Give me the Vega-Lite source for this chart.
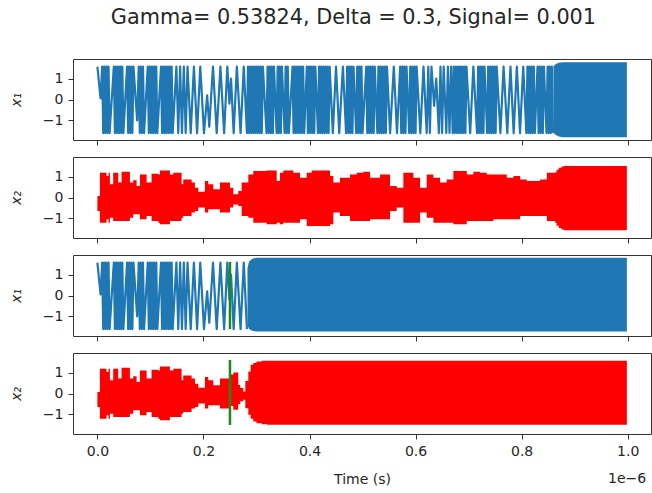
{
"$schema": "https://vega.github.io/schema/vega-lite/v6.json",
"background": "white",
"padding": {"left": 9, "top": 6, "right": 0, "bottom": 0},
"title": {"text": "Gamma= 0.53824, Delta = 0.3, Signal= 0.001", "fontSize": 20.8, "font": "DejaVu Sans", "fontWeight": "normal", "color": "#262626", "anchor": "middle", "offset": 30, "dx": 23},
"config": {
 "view": {"stroke": "#333333", "strokeWidth": 1},
 "font": "DejaVu Sans",
 "axis": {"labelFont": "DejaVu Sans", "labelFontSize": 14, "labelColor": "#262626", "tickColor": "#333333", "tickSize": 5, "tickWidth": 1, "grid": false, "domain": false, "labelPadding": 5, "titleFont": "DejaVu Sans", "titleFontSize": 14, "titleFontWeight": "normal", "titleColor": "#262626"},
 "axisY": {"titleFontStyle": "italic", "titlePadding": 18.5},
 "concat": {"spacing": 10}
},
"datasets": {
 "x1": [
{"t":0,"v":1.57},{"t":0.006,"v":0.05},{"t":0.009,"v":1.57},{"t":0.011,"v":-1.6},{"t":0.013,"v":1.57},{"t":0.015,"v":-1.6},{"t":0.017,"v":1.57},{"t":0.019,"v":-1.6},{"t":0.021,"v":1.57},{"t":0.023,"v":-1.6},{"t":0.031,"v":1.57},
{"t":0.033,"v":-1.6},{"t":0.035,"v":1.57},{"t":0.037,"v":-1.6},{"t":0.039,"v":1.57},{"t":0.041,"v":-1.6},{"t":0.043,"v":1.57},{"t":0.045,"v":-1.6},{"t":0.047,"v":1.57},{"t":0.049,"v":-1.6},{"t":0.056,"v":1.57},
{"t":0.058,"v":-1.6},{"t":0.060,"v":1.57},{"t":0.062,"v":-1.6},{"t":0.064,"v":1.57},{"t":0.066,"v":-1.6},{"t":0.068,"v":1.57},{"t":0.075,"v":-1.0},{"t":0.078,"v":1.57},
{"t":0.080,"v":-1.6},{"t":0.082,"v":1.57},{"t":0.084,"v":-1.6},{"t":0.086,"v":1.57},{"t":0.088,"v":-1.6},{"t":0.095,"v":1.57},
{"t":0.097,"v":-1.6},{"t":0.099,"v":1.57},{"t":0.101,"v":-1.6},{"t":0.103,"v":1.57},{"t":0.105,"v":-1.6},{"t":0.107,"v":1.57},{"t":0.109,"v":-1.6},{"t":0.111,"v":1.57},{"t":0.113,"v":-1.6},{"t":0.120,"v":1.57},
{"t":0.122,"v":-1.6},{"t":0.124,"v":1.57},{"t":0.126,"v":-1.6},{"t":0.128,"v":1.57},{"t":0.130,"v":-1.6},{"t":0.132,"v":1.57},{"t":0.134,"v":-1.6},{"t":0.136,"v":1.57},{"t":0.138,"v":-1.6},{"t":0.140,"v":1.57},{"t":0.142,"v":-1.6},{"t":0.149,"v":1.57},
{"t":0.1525,"v":-1.6},{"t":0.156,"v":1.57},{"t":0.1595,"v":-1.6},{"t":0.163,"v":1.57},{"t":0.1665,"v":-1.6},{"t":0.170,"v":1.57},
{"t":0.176,"v":-1.6},{"t":0.182,"v":1.57},{"t":0.188,"v":-1.6},{"t":0.194,"v":1.57},
{"t":0.201,"v":-1.6},{"t":0.207,"v":0.2},{"t":0.211,"v":-1.3},{"t":0.218,"v":1.57},{"t":0.225,"v":-1.6},{"t":0.232,"v":1.57},{"t":0.239,"v":-1.6},{"t":0.245,"v":1.57},{"t":0.249,"v":-0.2},{"t":0.252,"v":1.0},{"t":0.257,"v":-1.6},
{"t":0.263,"v":1.57},{"t":0.270,"v":-1.6},{"t":0.276,"v":1.57},{"t":0.282,"v":-1.6},
{"t":0.284,"v":1.57},{"t":0.286,"v":-1.6},{"t":0.288,"v":1.57},{"t":0.290,"v":-1.6},{"t":0.292,"v":1.57},{"t":0.294,"v":-1.6},{"t":0.296,"v":1.57},{"t":0.298,"v":-1.6},{"t":0.300,"v":1.57},{"t":0.302,"v":-1.6},{"t":0.304,"v":1.57},{"t":0.306,"v":-1.6},{"t":0.308,"v":1.57},{"t":0.310,"v":-1.6},{"t":0.312,"v":1.57},{"t":0.319,"v":-1.6},
{"t":0.321,"v":1.57},{"t":0.323,"v":-1.6},{"t":0.325,"v":1.57},{"t":0.327,"v":-1.6},{"t":0.329,"v":1.57},{"t":0.331,"v":-1.6},{"t":0.333,"v":1.57},{"t":0.338,"v":-1.6},{"t":0.340,"v":1.57},{"t":0.342,"v":-1.6},{"t":0.344,"v":1.57},{"t":0.346,"v":-1.6},{"t":0.348,"v":1.57},{"t":0.353,"v":-1.6},{"t":0.355,"v":1.57},{"t":0.357,"v":-1.6},{"t":0.359,"v":1.57},{"t":0.361,"v":-1.6},{"t":0.368,"v":1.57},
{"t":0.370,"v":-1.6},{"t":0.372,"v":1.57},{"t":0.374,"v":-1.6},{"t":0.376,"v":1.57},{"t":0.378,"v":-1.6},{"t":0.380,"v":1.57},{"t":0.382,"v":-1.6},{"t":0.384,"v":1.57},{"t":0.386,"v":-1.6},{"t":0.388,"v":1.57},{"t":0.390,"v":-1.6},{"t":0.395,"v":1.57},{"t":0.397,"v":-1.6},{"t":0.399,"v":1.57},{"t":0.401,"v":-1.6},{"t":0.403,"v":1.57},{"t":0.405,"v":-1.6},{"t":0.407,"v":1.57},{"t":0.409,"v":-1.6},{"t":0.411,"v":1.57},{"t":0.416,"v":-1.6},{"t":0.418,"v":1.57},{"t":0.420,"v":-1.6},{"t":0.422,"v":1.57},{"t":0.424,"v":-1.6},{"t":0.426,"v":1.57},{"t":0.428,"v":-1.6},{"t":0.430,"v":1.57},{"t":0.432,"v":-1.6},{"t":0.434,"v":1.57},{"t":0.436,"v":-1.6},{"t":0.438,"v":1.57},
{"t":0.444,"v":-1.6},{"t":0.450,"v":1.57},{"t":0.456,"v":-1.6},{"t":0.463,"v":1.57},{"t":0.469,"v":-1.6},
{"t":0.471,"v":1.57},{"t":0.473,"v":-1.6},{"t":0.475,"v":1.57},{"t":0.477,"v":-1.6},{"t":0.479,"v":1.57},{"t":0.481,"v":-1.6},{"t":0.483,"v":1.57},{"t":0.488,"v":-1.6},{"t":0.490,"v":1.57},{"t":0.492,"v":-1.6},{"t":0.494,"v":1.57},{"t":0.496,"v":-1.6},{"t":0.498,"v":1.57},{"t":0.500,"v":-1.6},{"t":0.507,"v":1.57},
{"t":0.509,"v":-1.6},{"t":0.511,"v":1.57},{"t":0.513,"v":-1.6},{"t":0.515,"v":1.57},{"t":0.517,"v":-1.6},{"t":0.519,"v":1.57},{"t":0.521,"v":-1.6},{"t":0.523,"v":1.57},{"t":0.528,"v":-1.6},{"t":0.530,"v":1.57},{"t":0.532,"v":-1.6},{"t":0.534,"v":1.57},{"t":0.536,"v":-1.6},{"t":0.538,"v":1.57},{"t":0.540,"v":-1.6},{"t":0.542,"v":1.57},{"t":0.544,"v":-1.6},{"t":0.546,"v":1.57},
{"t":0.552,"v":-1.6},{"t":0.559,"v":1.57},{"t":0.565,"v":-1.6},{"t":0.571,"v":1.57},
{"t":0.573,"v":-1.6},{"t":0.575,"v":1.57},{"t":0.577,"v":-1.6},{"t":0.579,"v":1.57},{"t":0.581,"v":-1.6},{"t":0.583,"v":1.57},{"t":0.588,"v":-1.6},{"t":0.590,"v":1.57},{"t":0.592,"v":-1.6},{"t":0.594,"v":1.57},{"t":0.596,"v":-1.6},{"t":0.598,"v":1.57},{"t":0.600,"v":-1.6},{"t":0.602,"v":1.57},
{"t":0.609,"v":-1.6},{"t":0.615,"v":1.57},{"t":0.621,"v":-1.6},
{"t":0.624,"v":1.57},{"t":0.627,"v":-1.6},{"t":0.630,"v":1.57},{"t":0.635,"v":-0.3},{"t":0.639,"v":1.0},{"t":0.644,"v":-1.6},{"t":0.647,"v":1.57},{"t":0.650,"v":-1.6},{"t":0.653,"v":1.57},{"t":0.658,"v":-1.6},{"t":0.661,"v":1.57},{"t":0.664,"v":-1.6},{"t":0.667,"v":1.57},{"t":0.670,"v":-1.6},
{"t":0.672,"v":1.57},{"t":0.674,"v":-1.6},{"t":0.676,"v":1.57},{"t":0.678,"v":-1.6},{"t":0.680,"v":1.57},{"t":0.682,"v":-1.6},{"t":0.684,"v":1.57},{"t":0.686,"v":-1.6},{"t":0.688,"v":1.57},{"t":0.690,"v":-1.6},{"t":0.692,"v":1.57},{"t":0.694,"v":-1.6},{"t":0.696,"v":1.57},
{"t":0.703,"v":-1.6},{"t":0.709,"v":1.57},{"t":0.716,"v":-1.6},
{"t":0.718,"v":1.57},{"t":0.720,"v":-1.6},{"t":0.722,"v":1.57},{"t":0.724,"v":-1.6},{"t":0.726,"v":1.57},{"t":0.728,"v":-1.6},{"t":0.730,"v":1.57},{"t":0.735,"v":-1.6},{"t":0.737,"v":1.57},{"t":0.739,"v":-1.6},{"t":0.741,"v":1.57},{"t":0.743,"v":-1.6},{"t":0.745,"v":1.57},{"t":0.747,"v":-1.6},{"t":0.749,"v":1.57},{"t":0.751,"v":-1.6},{"t":0.753,"v":1.57},
{"t":0.760,"v":-1.6},{"t":0.766,"v":1.57},{"t":0.773,"v":-1.6},
{"t":0.779,"v":1.57},{"t":0.785,"v":-1.6},{"t":0.791,"v":1.57},{"t":0.797,"v":-1.6},{"t":0.803,"v":1.57},{"t":0.809,"v":-1.6},
{"t":0.811,"v":1.57},{"t":0.813,"v":-1.6},{"t":0.815,"v":1.57},{"t":0.817,"v":-1.6},{"t":0.819,"v":1.57},{"t":0.821,"v":-1.6},{"t":0.823,"v":1.57},{"t":0.825,"v":-1.6},{"t":0.830,"v":1.57},{"t":0.832,"v":-1.6},{"t":0.834,"v":1.57},{"t":0.836,"v":-1.6},{"t":0.838,"v":1.57},{"t":0.840,"v":-1.6},{"t":0.842,"v":1.57},{"t":0.847,"v":-1.6},{"t":0.849,"v":1.57},{"t":0.851,"v":-1.6},{"t":0.853,"v":1.57},{"t":0.855,"v":-1.6},{"t":0.857,"v":1.57},{"t":0.859,"v":-1.6}
 ],
 "blk": [
{"p":"a","t":0.860,"hi":1.57,"lo":-1.6},{"p":"a","t":0.864,"hi":1.68,"lo":-1.68},{"p":"a","t":0.870,"hi":1.75,"lo":-1.76},{"p":"a","t":0.878,"hi":1.78,"lo":-1.8},{"p":"a","t":0.9985,"hi":1.78,"lo":-1.8},
{"p":"b","t":0.283,"hi":1.3,"lo":-1.4},{"p":"b","t":0.286,"hi":1.62,"lo":-1.6},{"p":"b","t":0.292,"hi":1.75,"lo":-1.68},{"p":"b","t":0.300,"hi":1.8,"lo":-1.72},{"p":"b","t":0.9985,"hi":1.8,"lo":-1.72}
 ],
 "x2": [
{"t":0,"hi":0.07,"lo":-0.64},{"t":0.0047,"hi":1.18,"lo":-1.2},{"t":0.0173,"hi":1.02,"lo":-1.04},{"t":0.021,"hi":1.18,"lo":-1.2},{"t":0.0236,"hi":0.63,"lo":-0.96},{"t":0.0298,"hi":1.18,"lo":-1.12},{"t":0.0393,"hi":0.71,"lo":-1.12},{"t":0.0456,"hi":1.23,"lo":-1.12},{"t":0.0613,"hi":0.71,"lo":-0.96},{"t":0.0676,"hi":0.82,"lo":-0.8},{"t":0.0739,"hi":0.55,"lo":-0.8},{"t":0.0802,"hi":1.10,"lo":-1.04},{"t":0.0928,"hi":0.71,"lo":-0.88},{"t":0.1022,"hi":1.13,"lo":-1.12},{"t":0.1148,"hi":1.10,"lo":-1.2},{"t":0.1179,"hi":1.29,"lo":-1.28},{"t":0.1368,"hi":1.10,"lo":-1.12},{"t":0.1431,"hi":1.18,"lo":-1.12},{"t":0.1588,"hi":0.63,"lo":-0.96},{"t":0.1619,"hi":0.86,"lo":-0.88},{"t":0.1777,"hi":0.71,"lo":-0.72},{"t":0.184,"hi":0.47,"lo":-0.64},{"t":0.1903,"hi":0.27,"lo":-0.48},{"t":0.2028,"hi":0.79,"lo":-0.72},{"t":0.2091,"hi":0.63,"lo":-0.56},{"t":0.2186,"hi":0.39,"lo":-0.56},{"t":0.2311,"hi":0.71,"lo":-0.72},{"t":0.25,"hi":0.47,"lo":-0.48},{"t":0.2563,"hi":0.15,"lo":-0.33},{"t":0.2657,"hi":0.31,"lo":-0.41},{"t":0.272,"hi":0.71,"lo":-0.88},{"t":0.2846,"hi":1.10,"lo":-0.96},{"t":0.294,"hi":1.26,"lo":-1.2},{"t":0.3192,"hi":1.29,"lo":-1.28},{"t":0.3381,"hi":0.79,"lo":-1.2},{"t":0.3443,"hi":1.18,"lo":-1.28},{"t":0.3506,"hi":1.29,"lo":-1.2},{"t":0.3695,"hi":1.18,"lo":-1.2},{"t":0.3821,"hi":0.94,"lo":-1.04},{"t":0.3947,"hi":1.18,"lo":-1.36},{"t":0.4041,"hi":1.29,"lo":-1.36},{"t":0.4387,"hi":1.02,"lo":-1.28},{"t":0.445,"hi":0.71,"lo":-0.72},{"t":0.4575,"hi":0.94,"lo":-0.88},{"t":0.4764,"hi":1.10,"lo":-1.12},{"t":0.489,"hi":1.18,"lo":-1.12},{"t":0.5016,"hi":1.23,"lo":-1.12},{"t":0.5142,"hi":0.94,"lo":-1.04},{"t":0.533,"hi":1.10,"lo":-1.04},{"t":0.5519,"hi":0.55,"lo":-0.64},{"t":0.5645,"hi":0.47,"lo":-0.48},{"t":0.577,"hi":1.18,"lo":-1.2},{"t":0.5959,"hi":0.94,"lo":-1.2},{"t":0.6085,"hi":0.47,"lo":-0.72},{"t":0.6211,"hi":1.10,"lo":-0.96},{"t":0.6336,"hi":0.94,"lo":-1.2},{"t":0.6462,"hi":0.71,"lo":-1.2},{"t":0.6588,"hi":0.86,"lo":-1.2},{"t":0.6713,"hi":1.26,"lo":-1.28},{"t":0.6966,"hi":1.10,"lo":-1.12},{"t":0.709,"hi":1.23,"lo":-1.12},{"t":0.7217,"hi":1.18,"lo":-1.12},{"t":0.7343,"hi":1.10,"lo":-1.12},{"t":0.7469,"hi":1.10,"lo":-1.04},{"t":0.7594,"hi":1.10,"lo":-1.04},{"t":0.772,"hi":0.94,"lo":-1.04},{"t":0.7846,"hi":1.02,"lo":-1.04},{"t":0.7972,"hi":0.86,"lo":-0.88},{"t":0.8098,"hi":0.79,"lo":-0.88},{"t":0.8223,"hi":0.79,"lo":-0.88},{"t":0.8349,"hi":0.86,"lo":-0.88},{"t":0.8475,"hi":1.18,"lo":-1.12},{"t":0.8632,"hi":1.2,"lo":-1.2},{"t":0.866,"hi":1.32,"lo":-1.35},{"t":0.870,"hi":1.42,"lo":-1.45},{"t":0.875,"hi":1.48,"lo":-1.52},{"t":0.88,"hi":1.5,"lo":-1.56},{"t":0.9985,"hi":1.5,"lo":-1.56}
 ],
 "x2late": [
{"t":0.25,"hi":0.9,"lo":-0.6},{"t":0.2563,"hi":1.0,"lo":-0.77},{"t":0.2657,"hi":0.4,"lo":-0.5},{"t":0.2695,"hi":0.26,"lo":-0.37},{"t":0.275,"hi":0.1,"lo":-0.3},{"t":0.279,"hi":0.6,"lo":-0.7},{"t":0.2846,"hi":1.05,"lo":-1.01},{"t":0.289,"hi":1.37,"lo":-1.2},{"t":0.294,"hi":1.45,"lo":-1.33},{"t":0.30,"hi":1.52,"lo":-1.42},{"t":0.31,"hi":1.56,"lo":-1.47},{"t":0.32,"hi":1.56,"lo":-1.49},{"t":0.9985,"hi":1.56,"lo":-1.49}
 ]
},
"vconcat": [
 {"width": 578, "height": 81, "layer": [
  {"data": {"name": "x1"}, "mark": {"type": "line", "color": "#1f77b4", "strokeWidth": 2.2, "strokeJoin": "round"},
   "encoding": {"x": {"field": "t", "type": "quantitative", "scale": {"domain": [-0.046, 1.044], "nice": false, "zero": false}, "axis": {"values": [0, 0.2, 0.4, 0.6, 0.8, 1], "labels": false, "title": null}},
    "y": {"field": "v", "type": "quantitative", "scale": {"domain": [-1.93, 1.93], "nice": false, "zero": false}, "axis": {"values": [-1, 0, 1], "title": "x₁"}}}},
  {"data": {"name": "blk"}, "transform": [{"filter": "datum.p == 'a'"}], "mark": {"type": "area", "color": "#1f77b4", "opacity": 1},
   "encoding": {"x": {"field": "t", "type": "quantitative"}, "y": {"field": "lo", "type": "quantitative", "title": "x₁"}, "y2": {"field": "hi"}}}
 ]},
 {"width": 578, "height": 81, "layer": [
  {"data": {"name": "x2"}, "mark": {"type": "area", "color": "#ff0000", "opacity": 1, "interpolate": "step-after"},
   "encoding": {"x": {"field": "t", "type": "quantitative", "scale": {"domain": [-0.046, 1.044], "nice": false, "zero": false}, "axis": {"values": [0, 0.2, 0.4, 0.6, 0.8, 1], "labels": false, "title": null}},
    "y": {"field": "lo", "type": "quantitative", "scale": {"domain": [-1.93, 1.93], "nice": false, "zero": false}, "axis": {"values": [-1, 0, 1], "title": "x₂"}}, "y2": {"field": "hi"}}}
 ]},
 {"width": 578, "height": 81, "layer": [
  {"data": {"name": "x1"}, "transform": [{"filter": "datum.t <= 0.283"}], "mark": {"type": "line", "color": "#1f77b4", "strokeWidth": 2.2, "strokeJoin": "round"},
   "encoding": {"x": {"field": "t", "type": "quantitative", "scale": {"domain": [-0.046, 1.044], "nice": false, "zero": false}, "axis": {"values": [0, 0.2, 0.4, 0.6, 0.8, 1], "labels": false, "title": null}},
    "y": {"field": "v", "type": "quantitative", "scale": {"domain": [-1.93, 1.93], "nice": false, "zero": false}, "axis": {"values": [-1, 0, 1], "title": "x₁"}}}},
  {"data": {"name": "blk"}, "transform": [{"filter": "datum.p == 'b'"}], "mark": {"type": "area", "color": "#1f77b4", "opacity": 1},
   "encoding": {"x": {"field": "t", "type": "quantitative"}, "y": {"field": "lo", "type": "quantitative", "title": "x₁"}, "y2": {"field": "hi"}}},
  {"data": {"values": [{"t": 0.25, "a": 1.6, "b": -1.6}]}, "mark": {"type": "rule", "color": "#1a8a1a", "strokeWidth": 2.5},
   "encoding": {"x": {"field": "t", "type": "quantitative"}, "y": {"field": "a", "type": "quantitative", "title": "x₁"}, "y2": {"field": "b"}}}
 ]},
 {"width": 578, "height": 81, "layer": [
  {"data": {"name": "x2"}, "transform": [{"filter": "datum.t <= 0.25"}], "mark": {"type": "area", "color": "#ff0000", "opacity": 1, "interpolate": "step-after"},
   "encoding": {"x": {"field": "t", "type": "quantitative", "scale": {"domain": [-0.046, 1.044], "nice": false, "zero": false}, "axis": {"values": [0, 0.2, 0.4, 0.6, 0.8, 1], "format": ".1f", "labelFlush": false, "title": "Time (s)", "titlePadding": 14}},
    "y": {"field": "lo", "type": "quantitative", "scale": {"domain": [-1.93, 1.93], "nice": false, "zero": false}, "axis": {"values": [-1, 0, 1], "title": "x₂"}}, "y2": {"field": "hi"}}},
  {"data": {"name": "x2late"}, "mark": {"type": "area", "color": "#ff0000", "opacity": 1, "interpolate": "step-after"},
   "encoding": {"x": {"field": "t", "type": "quantitative"}, "y": {"field": "lo", "type": "quantitative", "title": "x₂"}, "y2": {"field": "hi"}}},
  {"data": {"values": [{"t": 0.25, "a": 1.6, "b": -1.5}]}, "mark": {"type": "rule", "color": "#1a8a1a", "strokeWidth": 2.5},
   "encoding": {"x": {"field": "t", "type": "quantitative"}, "y": {"field": "a", "type": "quantitative", "title": "x₂"}, "y2": {"field": "b"}}},
  {"data": {"values": [{"t": 1.035, "y": -1.93, "s": "1e−6"}]}, "mark": {"type": "text", "fontSize": 14, "font": "DejaVu Sans", "color": "#262626", "dy": 45, "baseline": "middle", "align": "right"},
   "encoding": {"x": {"field": "t", "type": "quantitative"}, "y": {"field": "y", "type": "quantitative", "title": "x₂"}, "text": {"field": "s"}}}
 ]}
]
}
